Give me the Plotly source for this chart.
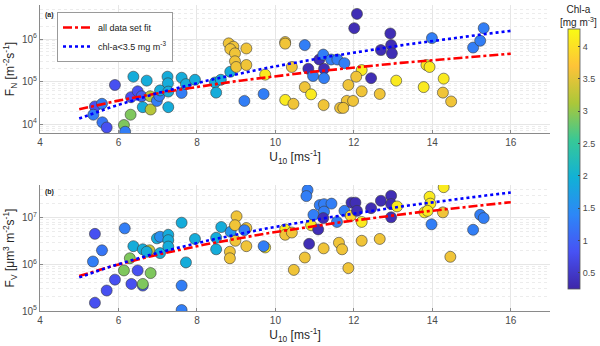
import numpy as np
import plotly.graph_objects as go

# ---- panel (a): number flux ----
u10_a = [5.40, 5.36, 5.58, 5.59, 5.70, 5.91, 6.14, 6.17, 6.31, 6.32, 6.38, 6.49, 6.59, 6.62,
         6.72, 6.81, 6.82, 6.98, 7.04, 7.06, 7.25, 7.26, 7.27, 7.27, 7.61, 7.61, 7.72, 7.95,
         8.46, 8.49, 8.61, 8.85, 8.81, 8.93, 8.85, 8.97, 8.97, 9.00, 9.26, 9.26, 9.21, 9.70,
         9.74, 10.25, 10.25, 10.25, 10.42, 10.46, 10.75, 10.75, 10.91, 10.84, 10.96, 11.12,
         11.22, 11.24, 11.24, 11.42, 11.58, 11.76, 11.23, 11.86, 11.82, 11.98, 11.65, 11.73,
         12.08, 12.01, 12.93, 12.95, 12.97, 12.69, 12.44, 12.20, 12.06, 12.20, 12.66, 13.08,
         13.78, 13.85, 13.93, 14.29, 14.27, 14.48, 13.99, 15.04, 15.22, 15.31]
fn_a = [2.6e4, 1.66e4, 3.0e4, 1.1e4, 8.3e3, 8.3e4, 9.5e3, 6.6e3, 1.66e4, 4.3e4, 1.3e5, 5.9e4,
        4.5e4, 2.5e4, 1.05e5, 4.5e4, 2.2e4, 3.5e4, 4.6e4, 6.2e4, 1.3e5, 9.1e4, 5.8e4, 2.5e4,
        1.23e5, 5.4e4, 8.7e4, 1.1e5, 9.5e4, 5.5e4, 1.1e5, 1.7e5, 7.9e5, 6.6e5, 5.8e5, 4.6e5,
        3.0e5, 2.2e5, 6.0e5, 2.45e5, 3.5e4, 5.1e4, 1.45e5, 8.5e5, 7.8e5, 3.7e4, 2.2e5, 3.0e4,
        7.2e5, 7.4e4, 5.0e4, 2.0e5, 1.35e5, 3.3e5, 4.3e5, 2.0e5, 1.2e5, 3.3e5, 3.3e5, 2.7e5,
        2.8e4, 8.3e4, 3.5e4, 3.5e4, 2.4e4, 2.4e4, 3.9e6, 1.8e6, 1.35e6, 7.2e5, 4.6e5, 5.5e5,
        1.2e5, 1.86e5, 1.3e5, 5.9e4, 5.1e4, 1.05e5, 7.4e4, 2.45e5, 2.2e5, 1.17e5, 5.5e4, 3.4e4,
        1.05e6, 6.3e5, 9.1e5, 1.8e6]
chl_a = [0.8, 1.3, 1.3, 1.2, 0.8, 0.8, 2.9, 1.3, 2.9, 0.8, 1.9, 0.8, 1.0, 1.9,
         1.9, 3.2, 3.2, 1.3, 1.3, 1.9, 1.9, 1.9, 1.9, 1.9, 1.9, 1.3, 1.9, 1.9,
         1.9, 1.9, 1.9, 1.9, 3.6, 3.6, 3.6, 3.6, 3.6, 3.6, 3.6, 3.6, 1.3, 1.3,
         4.1, 3.6, 3.6, 4.1, 3.6, 3.6, 1.3, 3.6, 4.1, 0.35, 1.3, 0.35,
         1.3, 0.35, 1.3, 1.3, 1.3, 1.3, 3.6, 3.6, 3.6, 3.6, 3.6, 3.6,
         0.35, 0.35, 0.35, 0.35, 0.35, 0.35, 0.35, 4.1, 3.6, 3.6, 3.6, 4.1,
         4.1, 4.1, 4.1, 4.1, 3.6, 3.6, 1.3, 1.3, 1.3, 1.3]

# ---- panel (b): volume flux ----
u10_b = [5.40, 5.35, 5.40, 5.58, 5.70, 5.91, 6.16, 6.14, 6.29, 6.33, 6.38, 6.49, 6.62, 6.62,
         6.62, 6.82, 6.79, 6.72, 6.98, 7.06, 7.06, 7.27, 7.27, 7.27, 7.61, 7.72, 7.61, 7.61,
         7.95, 8.49, 8.49, 8.62, 8.86, 9.01, 8.97, 9.26, 8.98, 8.84, 8.84, 9.26, 9.74, 9.21,
         9.70, 10.25, 10.25, 10.42, 10.47, 10.82, 10.79, 10.97, 10.91, 10.86, 10.75, 11.09,
         11.23, 11.13, 11.24, 11.43, 11.24, 11.22, 11.57, 11.76, 11.62, 11.70, 11.86, 11.94,
         11.92, 12.04, 12.08, 12.44, 12.69, 12.95, 12.95, 13.10, 12.95, 12.20, 12.20, 12.66,
         14.29, 13.93, 13.95, 13.80, 13.88, 14.27, 13.98, 14.46, 15.04, 15.22, 15.31]
fv_b = [4.5e6, 1.15e6, 1.5e5, 2.0e6, 2.75e5, 4.7e5, 5.9e6, 7.4e5, 1.35e6, 3.8e5, 2.45e6,
        7.4e5, 2.1e6, 3.5e5, 3.8e5, 6.5e5, 2.0e6, 1.86e6, 3.6e6, 3.9e6, 1.74e6, 4.3e6,
        3.3e6, 2.4e6, 7.8e6, 1.1e6, 3.5e5, 1.05e5, 3.5e6, 3.7e6, 2.1e6, 6.3e6, 5.0e6,
        1.07e7, 6.9e6, 6.0e6, 3.2e6, 1.86e6, 1.35e6, 2.45e6, 2.3e6, 5.4e6, 2.45e6, 5.6e6,
        4.3e6, 4.8e6, 7.6e5, 3.9e7, 2.9e7, 1.15e7, 6.9e6, 2.75e6, 1.4e6, 5.6e6, 2.2e6,
        1.86e7, 1.95e7, 2.0e7, 1.35e7, 9.8e6, 8.1e6, 1.4e7, 2.9e6, 2.1e6, 8.3e5, 2.1e7,
        1.1e7, 2.1e7, 1.4e7, 1.6e7, 2.3e7, 2.95e7, 1.95e7, 1.74e7, 1.02e7, 8.1e6, 3.2e6,
        3.5e6, 4.5e7, 2.8e7, 2.0e7, 1.3e7, 1.4e7, 1.3e7, 7.2e6, 1.45e6, 5.5e6, 1.15e7, 9.8e6]
chl_b = [0.8, 1.3, 0.8, 1.2, 0.8, 0.8, 1.3, 2.9, 2.9, 0.8, 1.9, 0.8, 1.9, 0.9,
         2.9, 2.9, 3.3, 1.9, 1.9, 1.5, 1.9, 1.9, 1.9, 1.9, 1.9, 1.9, 1.3, 1.3,
         1.9, 1.9, 1.9, 1.9, 1.6, 3.6, 3.6, 3.6, 3.6, 3.6, 3.6, 3.6, 4.1, 1.3,
         1.3, 4.1, 3.6, 3.6, 3.6, 1.3, 1.3, 1.3, 4.1, 0.35, 3.6, 0.35,
         3.6, 1.3, 1.3, 1.3, 1.3, 0.35, 1.3, 1.3, 3.6, 3.6, 3.6, 0.35,
         3.9, 0.35, 0.35, 0.35, 0.35, 0.35, 0.35, 4.1, 0.35, 4.1, 3.6, 3.6,
         4.1, 4.1, 4.1, 4.1, 4.1, 3.6, 1.3, 3.6, 1.3, 1.3, 1.3]

# power-law fits F = a * U10^b
fit_a_all = (344.0, 2.59)
fit_a_low = (19.0, 4.08)
fit_b_all = (3650.0, 3.13)
fit_b_low = (1600.0, 3.60)
fit_u = np.linspace(5, 16, 60)

y_ticks_a = [1e4, 1e5, 1e6]
y_text_a = ["10<sup>4</sup>", "10<sup>5</sup>", "10<sup>6</sup>"]
y_ticks_b = [1e5, 1e6, 1e7]
y_text_b = ["10<sup>5</sup>", "10<sup>6</sup>", "10<sup>7</sup>"]
x_ticks = [4, 6, 8, 10, 12, 14, 16]
cbar_ticks = [0.5, 1, 1.5, 2, 2.5, 3, 3.5, 4]

parula = [
    [0.000, "#3e26a8"], [0.143, "#4752f4"], [0.286, "#2d87f7"], [0.429, "#11b1d6"],
    [0.571, "#37c897"], [0.714, "#abc739"], [0.857, "#fec338"], [1.000, "#f9fb14"],
]

FONT = "Liberation Sans, Arial, sans-serif"
TICK_COL = "#4a4a4a"

# page geometry (px)
W, H = 600, 346
ML, MR, MT, MB = 40, 0, 5, 35
PW, PH = W - ML - MR, H - MT - MB
X_END = (550 - ML) / PW          # right edge of both axes


def px_x(p):
    return (p - ML) / PW


def px_y(p):
    return (H - MB - p) / PH


fig = go.Figure()

marker_common = dict(size=11, coloraxis="coloraxis",
                     line=dict(color="#3a3a3a", width=0.6), opacity=1)

fig.add_trace(go.Scatter(x=u10_a, y=fn_a, mode="markers", xaxis="x", yaxis="y",
                         marker=dict(color=chl_a, **marker_common), showlegend=False))
fig.add_trace(go.Scatter(x=fit_u, y=fit_a_all[0] * fit_u ** fit_a_all[1], mode="lines",
                         xaxis="x", yaxis="y", name="all data set fit",
                         line=dict(color="#ff0000", width=2.6, dash="dashdot")))
fig.add_trace(go.Scatter(x=fit_u, y=fit_a_low[0] * fit_u ** fit_a_low[1], mode="lines",
                         xaxis="x", yaxis="y", name="chl-a&lt;3.5 mg m<sup>-3</sup>",
                         line=dict(color="#0000ff", width=2.6, dash="dot")))

fig.add_trace(go.Scatter(x=u10_b, y=fv_b, mode="markers", xaxis="x2", yaxis="y2",
                         marker=dict(color=chl_b, **marker_common), showlegend=False))
fig.add_trace(go.Scatter(x=fit_u, y=fit_b_all[0] * fit_u ** fit_b_all[1], mode="lines",
                         xaxis="x2", yaxis="y2", showlegend=False,
                         line=dict(color="#ff0000", width=2.6, dash="dashdot")))
fig.add_trace(go.Scatter(x=fit_u, y=fit_b_low[0] * fit_u ** fit_b_low[1], mode="lines",
                         xaxis="x2", yaxis="y2", showlegend=False,
                         line=dict(color="#0000ff", width=2.6, dash="dot")))

xaxis_common = dict(range=[4, 17], tickvals=x_ticks, showgrid=True, gridcolor="#e6e6e6",
                    showline=True, linecolor="#8a8a8a", linewidth=1, ticks="inside",
                    ticklen=3, tickcolor="#8a8a8a", zeroline=False,
                    tickfont=dict(family=FONT, size=10, color=TICK_COL))
yaxis_common = dict(type="log", showgrid=True, gridcolor="#e6e6e6",
                    showline=True, linecolor="#8a8a8a", linewidth=1, ticks="inside",
                    ticklen=3, tickcolor="#8a8a8a", zeroline=False,
                    minor=dict(showgrid=True, gridcolor="#ececec", griddash="dot",
                               dtick="D1"),
                    tickfont=dict(family=FONT, size=10, color=TICK_COL))

x_title = dict(text="U<sub>10</sub> [ms<sup>-1</sup>]",
               font=dict(family=FONT, size=12, color="#262626"), standoff=4)

fig.update_layout(
    width=W, height=H,
    margin=dict(l=ML, r=MR, t=MT, b=MB),
    paper_bgcolor="white", plot_bgcolor="white",
    xaxis=dict(domain=[0, X_END], anchor="y", title=x_title, **xaxis_common),
    yaxis=dict(domain=[px_y(133), 1], anchor="x", range=[3.79, 6.8],
               tickvals=y_ticks_a, ticktext=y_text_a,
               title=dict(text="F<sub>N</sub> [m<sup>-2</sup>s<sup>-1</sup>]",
                          font=dict(family=FONT, size=12, color="#262626"), standoff=4),
               **yaxis_common),
    xaxis2=dict(domain=[0, X_END], anchor="y2", title=x_title, **xaxis_common),
    yaxis2=dict(domain=[0, px_y(185)], anchor="x2", range=[5.0, 7.7],
                tickvals=y_ticks_b, ticktext=y_text_b,
                title=dict(text="F<sub>V</sub> [μm<sup>3</sup> m<sup>-2</sup>s<sup>-1</sup>]",
                           font=dict(family=FONT, size=12, color="#262626"), standoff=4),
                **yaxis_common),
    coloraxis=dict(
        colorscale=parula, cmin=0.25, cmax=4.27,
        colorbar=dict(x=px_x(568), xanchor="left", y=px_y(159), yanchor="middle",
                      len=260 / PH, lenmode="fraction", thickness=12, xpad=0, ypad=0,
                      outlinecolor="#555555", outlinewidth=0.8, tickvals=cbar_ticks,
                      ticks="inside", ticklen=2,
                      tickfont=dict(family=FONT, size=9, color=TICK_COL)),
    ),
    legend=dict(x=px_x(57), y=px_y(12), xanchor="left", yanchor="top",
                bgcolor="white", bordercolor="#9a9a9a", borderwidth=1,
                font=dict(family=FONT, size=9, color="#1a1a1a"),
                itemwidth=30, tracegroupgap=0),
    annotations=[
        dict(text="<b>(a)</b>", xref="paper", yref="paper", x=px_x(43), y=px_y(15),
             xanchor="left", yanchor="middle", showarrow=False,
             font=dict(family=FONT, size=7, color="#1a1a1a")),
        dict(text="<b>(b)</b>", xref="paper", yref="paper", x=px_x(43), y=px_y(192),
             xanchor="left", yanchor="middle", showarrow=False,
             font=dict(family=FONT, size=7, color="#1a1a1a")),
        dict(text="Chl-a<br>[mg m<sup>-3</sup>]", xref="paper", yref="paper",
             x=px_x(578), y=px_y(16), xanchor="center", yanchor="middle", showarrow=False,
             align="center", font=dict(family=FONT, size=10, color="#262626")),
    ],
)

fig.write_html("out.html")
